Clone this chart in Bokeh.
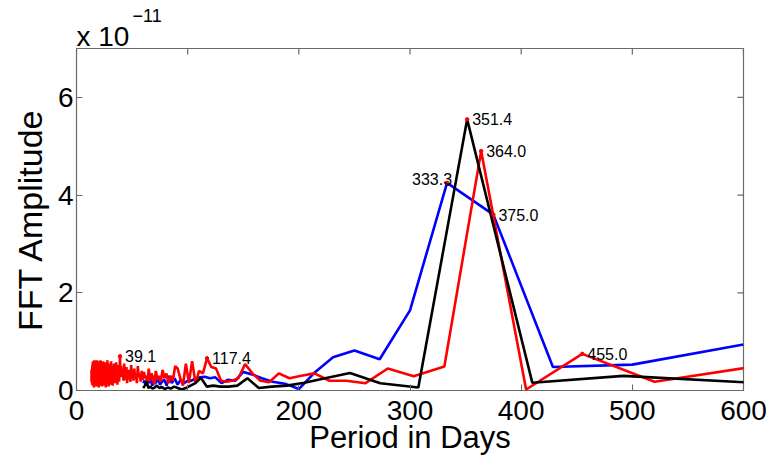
import numpy as np
from bokeh.plotting import figure
from bokeh.models import Range1d, Title, FixedTicker
from bokeh.core.properties import value
from bokeh.embed import file_html
from bokeh.resources import INLINE

# Each series is an FFT spectrum: period (days) = record_length / harmonic index k
# Amplitudes are in units of 1e-11.

red_length = 3640
red_k_first = 6
red_amp = [
    0.48, 0.18, 0.75, 0.02, 4.90, 0.49, 0.29, 0.45, 0.15, 0.20,   # k 6-15
    0.20, 0.35, 0.30, 0.25, 0.35, 0.17, 0.20, 0.35, 0.54, 0.25,   # k 16-25
    0.20, 0.18, 0.20, 0.45, 0.48, 0.66, 0.35, 0.40, 0.15, 0.60,   # k 26-35
    0.15, 0.55, 0.10, 0.25, 0.45, 0.50, 0.20, 0.30, 0.15, 0.35,   # k 36-45
    0.25, 0.42, 0.18, 0.30, 0.22, 0.40, 0.12, 0.28, 0.35, 0.20,   # k 46-55
    0.45, 0.15, 0.30, 0.25, 0.38, 0.22, 0.40, 0.18, 0.35, 0.28,   # k 56-65
    0.50, 0.15, 0.32, 0.25, 0.45, 0.20, 0.38, 0.30, 0.52, 0.18,   # k 66-75
    0.28, 0.42, 0.25, 0.35, 0.15, 0.48, 0.30, 0.22, 0.40, 0.55,   # k 76-85
    0.20, 0.33, 0.45, 0.28, 0.38, 0.50, 0.30, 0.70, 0.35, 0.18,   # k 86-95
    0.52, 0.28, 0.40, 0.12, 0.45, 0.30, 0.58, 0.22, 0.38, 0.15,   # k 96-105
    0.48, 0.26, 0.55, 0.20, 0.42, 0.33, 0.10, 0.50, 0.28, 0.44,   # k 106-115
    0.18, 0.60, 0.25, 0.36, 0.12, 0.47, 0.30, 0.53, 0.20, 0.40,   # k 116-125
    0.08, 0.55, 0.32, 0.45, 0.16, 0.62, 0.24, 0.38, 0.14, 0.50,   # k 126-135
    0.28, 0.42, 0.06, 0.56, 0.34, 0.20, 0.48, 0.26, 0.58, 0.18,   # k 136-145
    0.40, 0.30, 0.52, 0.10, 0.44, 0.25, 0.60, 0.32, 0.15, 0.46,   # k 146-155
    0.22, 0.54, 0.36, 0.08, 0.50, 0.28, 0.42, 0.18, 0.56, 0.30,   # k 156-165
    0.12, 0.48, 0.38, 0.62, 0.20, 0.44, 0.26, 0.52, 0.10, 0.40,   # k 166-175
    0.34, 0.58, 0.16, 0.46, 0.28, 0.54, 0.06, 0.42, 0.30, 0.60,   # k 176-185
    0.22, 0.48, 0.14, 0.38, 0.52, 0.24, 0.44, 0.12, 0.56, 0.32,   # k 186-195
    0.40, 0.18, 0.62, 0.26, 0.46, 0.08, 0.50, 0.34, 0.20, 0.58,   # k 196-205
    0.28, 0.42, 0.14, 0.54, 0.36, 0.48, 0.10, 0.44, 0.30, 0.60,   # k 206-215
    0.18, 0.40, 0.52, 0.24, 0.46, 0.12, 0.56, 0.32, 0.38, 0.16,   # k 216-225
    0.50, 0.28, 0.62, 0.20, 0.44, 0.34, 0.06, 0.48, 0.26, 0.54,   # k 226-235
    0.36, 0.14, 0.58, 0.30, 0.42, 0.22, 0.50, 0.18, 0.46, 0.34,   # k 236-245
    0.60, 0.12, 0.40, 0.28, 0.56, 0.24, 0.44, 0.10, 0.52, 0.30,   # k 246-255
    0.38, 0.20, 0.48, 0.26, 0.35, 0.22, 0.44, 0.15, 0.30, 0.40,   # k 256-265
    0.18, 0.36, 0.25, 0.42, 0.20,                                 # k 266-270
]

blue_length = 3000
blue_k_first = 5
blue_amp = [
    0.94, 0.53, 0.48, 3.60, 4.25, 1.64, 0.64, 0.82, 0.68, 0.37,   # k 5-14
    0.03, 0.14, 0.18, 0.25, 0.33, 0.38, 0.20, 0.22, 0.15, 0.27,   # k 15-24
    0.25, 0.28, 0.27, 0.25, 0.20, 0.20, 0.15, 0.22, 0.12, 0.25,   # k 25-34
    0.15, 0.30, 0.10, 0.22, 0.18, 0.12, 0.28, 0.15, 0.20, 0.10,   # k 35-44
    0.25, 0.15, 0.30, 0.12, 0.20, 0.15,                           # k 45-50
]

black_length = 2460
black_k_first = 4
black_amp = [
    0.15, 0.30, 0.16, 5.55, 0.06, 0.15, 0.36, 0.25, 0.16, 0.10,   # k 4-13
    0.08, 0.05, 0.25, 0.10, 0.08, 0.08, 0.10, 0.08, 0.26, 0.15,   # k 14-23
    0.10, 0.05, 0.02, 0.05, 0.08, 0.04, 0.06, 0.03, 0.07, 0.05,   # k 24-33
    0.10, 0.06, 0.04, 0.08, 0.05, 0.18, 0.10, 0.05,               # k 34-41
]

x_ticks = [0, 100, 200, 300, 400, 500, 600]
y_ticks = [0, 2, 4, 6]

# annotated peaks: period label and the series it belongs to
peak_labels = ["39.1", "117.4", "333.3", "351.4", "364.0", "375.0", "455.0"]
peak_series = ["red", "red", "blue", "black", "red", "blue", "red"]
peak_right_aligned = [False, False, True, False, False, False, False]


def periods(length, k_first, n):
    return [length / k for k in range(k_first, k_first + n)]


series = {
    "red": (periods(red_length, red_k_first, len(red_amp)), red_amp),
    "blue": (periods(blue_length, blue_k_first, len(blue_amp)), blue_amp),
    "black": (periods(black_length, black_k_first, len(black_amp)), black_amp),
}

FONT = "Liberation Sans"
AXIS_GRAY = "#6a6a6a"
X_MIN, X_MAX, Y_MIN, Y_MAX = 0, 600, 0, 7

p = figure(width=782, height=457, x_range=Range1d(X_MIN, X_MAX), y_range=Range1d(Y_MIN, Y_MAX),
           output_backend="svg", toolbar_location=None,
           min_border_left=76, min_border_right=39, min_border_top=48, min_border_bottom=67)
p.grid.visible = False
p.outline_line_color = AXIS_GRAY
p.outline_line_width = 1.2
p.background_fill_color = "white"
p.border_fill_color = "white"

for ax in (p.xaxis[0], p.yaxis[0]):
    ax.minor_tick_line_color = None
    ax.major_tick_in = 6
    ax.major_tick_out = 0
    ax.axis_line_color = AXIS_GRAY
    ax.major_tick_line_color = AXIS_GRAY
    ax.major_label_text_font = FONT
    ax.major_label_text_font_size = "28px"
    ax.major_label_text_color = "black"
    ax.axis_label_text_font = FONT
    ax.axis_label_text_font_style = "normal"
    ax.axis_label_text_color = "black"

p.xaxis[0].ticker = FixedTicker(ticks=x_ticks)
p.yaxis[0].ticker = FixedTicker(ticks=y_ticks)
p.xaxis[0].axis_label = "Period in Days"
p.yaxis[0].axis_label = "FFT Amplitude"
p.xaxis[0].axis_label_text_font_size = "31px"
p.yaxis[0].axis_label_text_font_size = "34px"
p.xaxis[0].major_label_standoff = 10
p.xaxis[0].axis_label_standoff = -3
p.yaxis[0].major_label_standoff = 3
p.yaxis[0].axis_label_standoff = 6

# mirrored inward ticks on top and right edges (box style)
p.ray(x=x_ticks, y=[Y_MAX] * len(x_ticks), length=6, length_units="screen",
      angle=-np.pi / 2, line_color=AXIS_GRAY, line_width=1.2)
p.ray(x=[X_MAX] * len(y_ticks), y=y_ticks, length=6, length_units="screen",
      angle=np.pi, line_color=AXIS_GRAY, line_width=1.2)

for name in ("blue", "red", "black"):
    xs, ys = series[name]
    p.line(xs, ys, line_color=name, line_width=2.6)

# peak annotations
lx, ly, lt, rx, ry, rt = [], [], [], [], [], []
for lab, ser, right in zip(peak_labels, peak_series, peak_right_aligned):
    xs, ys = series[ser]
    target = float(lab)
    i = int(np.argmin([abs(v - target) for v in xs]))
    if right:
        rx.append(xs[i]); ry.append(ys[i]); rt.append(lab)
    else:
        lx.append(xs[i]); ly.append(ys[i]); lt.append(lab)

p.scatter(lx + rx, ly + ry, size=3.5, color="red")
p.text(lx, ly, text=lt, text_font=value(FONT), text_font_size="16px",
       text_align="left", text_baseline="middle", x_offset=5, text_color="black")
p.text(rx, ry, text=rt, text_font=value(FONT), text_font_size="16px",
       text_align="right", text_baseline="bottom", x_offset=5, y_offset=2, text_color="black")

# scale factor "x 10^-11" above the top-left corner
p.title.text = "\u221211"
p.title.text_font = FONT
p.title.text_font_size = "18px"
p.title.text_font_style = "normal"
p.title.text_color = "black"
p.title.align = "left"
p.title.offset = 56
p.title.standoff = 0
p.add_layout(Title(text="x 10", text_font=FONT, text_font_size="28px", text_font_style="normal",
                   text_color="black", align="left", offset=0, standoff=-6), "above")

open("out.html", "w").write(file_html(p, INLINE))
